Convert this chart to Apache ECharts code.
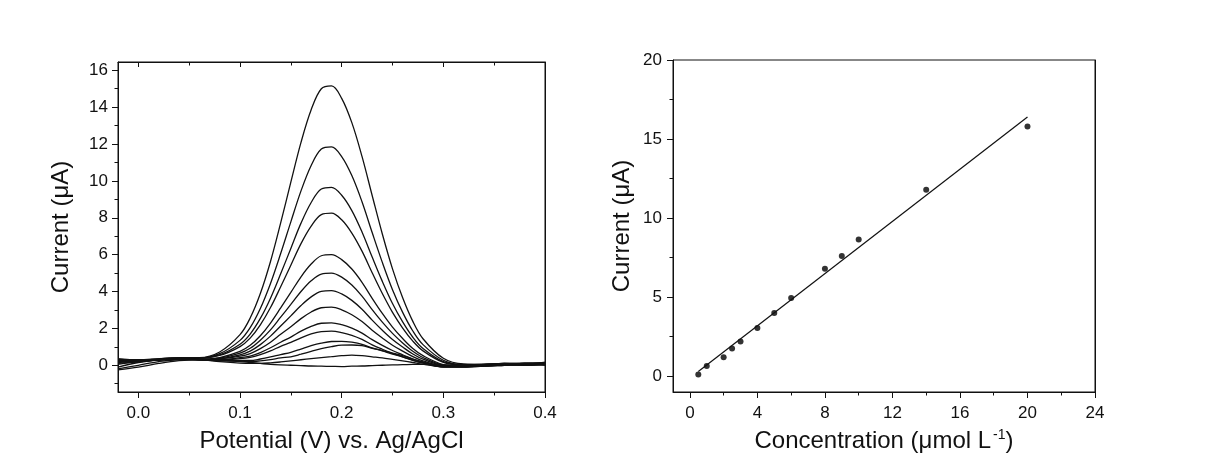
<!DOCTYPE html>
<html>
<head>
<meta charset="utf-8">
<script src="https://cdn.jsdelivr.net/npm/echarts@6/dist/echarts.min.js"></script>
<style>html,body{margin:0;padding:0;background:#fff;}#c{width:1208px;height:459px;}</style>
</head>
<body>
<div id="c"></div>
<script>
// ---- Left panel: DPV curves (Potential V vs Current µA)
const potential = [-0.02,0,0.02,0.04,0.06,0.08,0.10,0.11,0.12,0.13,0.14,0.15,0.16,0.17,0.18,0.19,0.20,0.21,0.22,0.23,0.24,0.25,0.26,0.27,0.28,0.30,0.32,0.34,0.36,0.38,0.40];
const curve1  = [0.3,0.25,0.35,0.4,0.41,0.72,1.66,2.56,3.89,5.63,7.72,9.93,12.09,13.86,15.0,15.15,14.48,13.16,11.33,9.21,7.12,5.23,3.66,2.38,1.44,0.38,0.07,0.05,0.1,0.1,0.15];
const curve2  = [0.15,0.25,0.35,0.4,0.40,0.63,1.35,2.04,3.08,4.44,6.06,7.78,9.46,10.84,11.73,11.85,11.32,10.29,8.87,7.20,5.58,4.10,2.87,1.86,1.12,0.27,0.04,0.05,0.1,0.05,0.1];
const curve3  = [0.05,0.2,0.3,0.4,0.39,0.57,1.14,1.69,2.54,3.64,4.96,6.34,7.71,8.83,9.56,9.65,9.22,8.39,7.23,5.87,4.55,3.35,2.35,1.52,0.91,0.20,0.03,0.0,0.05,0.1,0.1];
const curve4  = [0.35,0.3,0.35,0.4,0.38,0.53,1.01,1.47,2.19,3.13,4.26,5.43,6.60,7.55,8.17,8.25,7.89,7.17,6.19,5.02,3.89,2.87,2.02,1.31,0.78,0.16,0.02,0.05,0.05,0.1,0.05];
const curve5  = [-0.1,0.15,0.3,0.35,0.32,0.42,0.75,1.08,1.60,2.29,3.11,3.95,4.80,5.49,5.94,6.0,5.73,5.22,4.50,3.63,2.81,2.07,1.45,0.91,0.52,0.04,-0.05,0.0,0.05,0.0,0.1];
const curve6  = [0.2,0.2,0.3,0.35,0.32,0.39,0.66,0.92,1.36,1.92,2.61,3.30,4.0,4.58,4.95,5.0,4.78,4.35,3.75,3.02,2.34,1.73,1.21,0.76,0.42,0.01,-0.06,-0.05,0.05,0.1,0.05];
const curve7  = [0.25,0.25,0.3,0.35,0.32,0.36,0.57,0.77,1.12,1.58,2.13,2.68,3.24,3.71,4.01,4.05,3.87,3.52,3.04,2.45,1.90,1.40,0.99,0.61,0.33,-0.02,-0.07,0.0,0.05,0.05,0.1];
const curve8  = [0.3,0.25,0.3,0.35,0.31,0.34,0.49,0.63,0.90,1.25,1.68,2.09,2.53,2.89,3.12,3.15,3.01,2.74,2.37,1.90,1.48,1.09,0.77,0.47,0.24,-0.05,-0.08,0.0,0.0,0.05,0.05];
const curve9  = [0.1,0.2,0.3,0.35,0.31,0.31,0.41,0.50,0.69,0.95,1.25,1.53,1.85,2.11,2.28,2.3,2.20,2.01,1.74,1.39,1.08,0.80,0.57,0.34,0.16,-0.08,-0.08,-0.05,0.0,0.05,0.1];
const curve10 = [0.2,0.2,0.3,0.35,0.31,0.30,0.36,0.43,0.58,0.78,1.03,1.24,1.49,1.70,1.83,1.85,1.77,1.62,1.40,1.11,0.87,0.65,0.46,0.27,0.12,-0.09,-0.09,0.0,0.05,0.0,0.05];
const curve11 = [0.3,0.25,0.3,0.35,0.3,0.26,0.26,0.26,0.34,0.45,0.58,0.70,0.88,1.06,1.20,1.29,1.30,1.25,1.14,0.94,0.78,0.61,0.46,0.28,0.14,-0.08,-0.08,-0.05,0.0,0.05,0.0];
const curve12 = [0.35,0.3,0.3,0.35,0.3,0.25,0.23,0.20,0.24,0.31,0.40,0.46,0.60,0.75,0.90,1.01,1.09,1.10,1.06,0.92,0.80,0.66,0.52,0.34,0.19,-0.05,-0.07,0.0,0.05,0.0,0.05];
const curve13 = [-0.2,0.0,0.2,0.3,0.3,0.2,0.12,0.1,0.1,0.13,0.18,0.24,0.3,0.36,0.42,0.47,0.52,0.55,0.52,0.46,0.4,0.32,0.24,0.15,0.06,-0.08,-0.05,0.0,0.05,0.1,0.1];
const curve14 = [-0.25,-0.1,0.1,0.25,0.3,0.25,0.2,0.15,0.1,0.05,0.02,0.0,-0.02,-0.04,-0.05,-0.06,-0.07,-0.05,-0.04,-0.02,0.0,0.02,0.03,0.05,0.05,0.02,0.0,0.05,0.1,0.1,0.15];
const curves = [curve1,curve2,curve3,curve4,curve5,curve6,curve7,curve8,curve9,curve10,curve11,curve12,curve13,curve14];

const leftXTicks = [0, 0.1, 0.2, 0.3, 0.4];
const leftXMinor = [0.05, 0.15, 0.25, 0.35];
const leftYTicks = [0, 2, 4, 6, 8, 10, 12, 14, 16];
const leftYMinor = [-1, 1, 3, 5, 7, 9, 11, 13, 15];

// ---- Right panel: calibration
const concentration = [0.5, 1, 2, 2.5, 3, 4, 5, 6, 8, 9, 10, 14, 20];
const current = [0.1, 0.65, 1.2, 1.75, 2.2, 3.05, 4.0, 4.95, 6.8, 7.6, 8.65, 11.8, 15.8];
const fitX = [0.5, 20];
const fitY = [0.3, 16.4];

const rightXTicks = [0, 4, 8, 12, 16, 20, 24];
const rightXMinor = [2, 6, 10, 14, 18, 22];
const rightYTicks = [0, 5, 10, 15, 20];
const rightYMinor = [2.5, 7.5, 12.5, 17.5];

const FONT = "'Liberation Sans', Arial, sans-serif";
const INK = '#111';

function axisBase(extra) {
  return Object.assign({
    type: 'value',
    axisLine: { show: true, onZero: false, lineStyle: { color: INK, width: 1 } },
    splitLine: { show: false },
    axisLabel: { show: false },
    axisTick: { show: false },
    silent: true
  }, extra);
}
function majorAxis(gridIndex, position, min, max, ticks, labelFmt, margin, extra) {
  return axisBase(Object.assign({
    gridIndex, position, min, max,
    axisTick: { show: true, inside: false, length: 6, customValues: ticks, lineStyle: { color: INK, width: 1 } },
    axisLabel: { show: true, customValues: ticks, margin, color: INK, fontSize: 17, fontFamily: FONT, formatter: labelFmt }
  }, extra || {}));
}
function minorAxis(gridIndex, position, min, max, ticks, inside, len) {
  return axisBase({
    gridIndex, position, min, max,
    axisLine: { show: false, onZero: false },
    axisTick: { show: true, inside: !!inside, length: len || 3.5, customValues: ticks, lineStyle: { color: INK, width: 1 } }
  });
}

const xAxes = [
  majorAxis(0, 'bottom', -0.02, 0.4, leftXTicks, v => Number(v).toFixed(1), 13, {
    name: 'Potential (V) vs. Ag/AgCl', nameLocation: 'middle', nameGap: 37,
    nameTextStyle: { fontSize: 24, fontFamily: FONT, color: INK }
  }),
  minorAxis(0, 'bottom', -0.02, 0.4, leftXMinor),
  axisBase({ gridIndex: 0, position: 'top', min: -0.02, max: 0.4,
    axisTick: { show: true, inside: true, length: 5, customValues: leftXTicks, lineStyle: { color: INK } } }),
  minorAxis(0, 'top', -0.02, 0.4, leftXMinor, true, 3.5),
  majorAxis(1, 'bottom', -1, 24, rightXTicks, v => String(v), 13, {
    name: '{a|Concentration (μmol L}{s|-1}{a|)}', nameLocation: 'middle', nameGap: 36,
    nameTextStyle: { fontFamily: FONT, color: INK, fontSize: 24,
      rich: { a: { fontSize: 24, fontFamily: FONT, color: INK }, s: { fontSize: 14, fontFamily: FONT, color: INK, verticalAlign: 'top', padding: [0, 0, 12, 2] } } }
  }),
  minorAxis(1, 'bottom', -1, 24, rightXMinor)
];
const yAxes = [
  majorAxis(0, 'left', -1.45, 16.45, leftYTicks, v => String(v), 10, {
    name: 'Current (μA)', nameLocation: 'middle', nameGap: 45, nameRotate: 90,
    nameTextStyle: { fontSize: 24, fontFamily: FONT, color: INK }
  }),
  minorAxis(0, 'left', -1.45, 16.45, leftYMinor),
  axisBase({ gridIndex: 0, position: 'right', min: -1.45, max: 16.45 }),
  majorAxis(1, 'left', -1, 20, rightYTicks, v => String(v), 11, {
    name: 'Current (μA)', nameLocation: 'middle', nameGap: 39, nameRotate: 90,
    nameTextStyle: { fontSize: 24, fontFamily: FONT, color: INK }
  }),
  minorAxis(1, 'left', -1, 20, rightYMinor),
  axisBase({ gridIndex: 1, position: 'right', min: -1, max: 20 })
];

const series = curves.map(c => ({
  type: 'line', xAxisIndex: 0, yAxisIndex: 0,
  data: potential.map((x, i) => [x, c[i]]),
  smooth: 0.35, showSymbol: false, symbol: 'none', silent: true,
  lineStyle: { color: INK, width: 1.3 }, animation: false
}));
series.push({
  type: 'line', xAxisIndex: 4, yAxisIndex: 3,
  data: fitX.map((x, i) => [x, fitY[i]]),
  showSymbol: false, symbol: 'none', lineStyle: { color: INK, width: 1.2 }, animation: false, silent: true
});
series.push({
  type: 'scatter', xAxisIndex: 4, yAxisIndex: 3,
  data: concentration.map((x, i) => [x, current[i]]),
  symbol: 'circle', symbolSize: 6, itemStyle: { color: '#000' }, animation: false, silent: true
});

const chart = echarts.init(document.getElementById('c'), null, { renderer: 'canvas' });
chart.setOption({
  backgroundColor: '#fff',
  animation: false,
  grid: [
    { left: 118, right: 663, top: 62, bottom: 67, show: true, borderColor: INK, borderWidth: 1, backgroundColor: 'transparent' },
    { left: 673, right: 113, top: 60, bottom: 67, show: true, borderColor: INK, borderWidth: 1, backgroundColor: 'transparent' }
  ],
  xAxis: xAxes,
  yAxis: yAxes,
  series
});
</script>
</body>
</html>
